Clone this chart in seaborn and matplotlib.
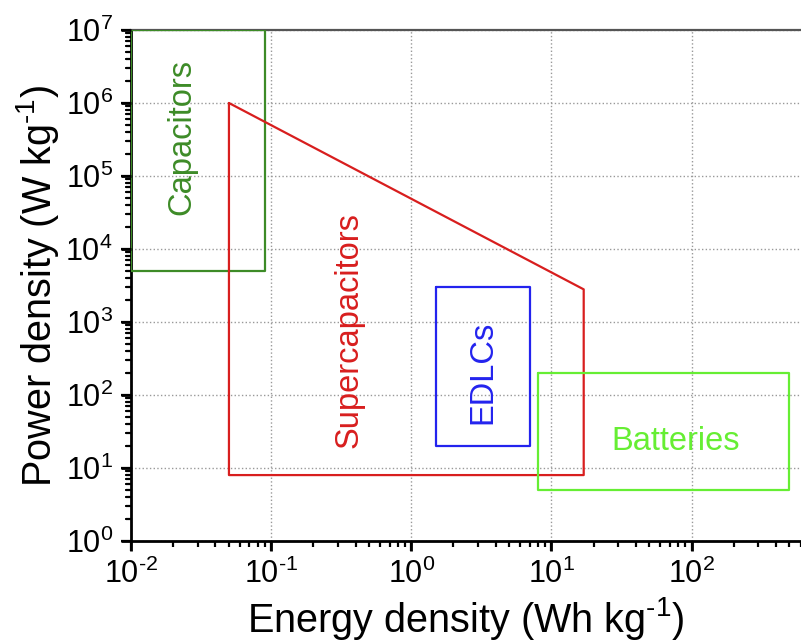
import matplotlib
matplotlib.use("Agg")
import matplotlib.pyplot as plt
import matplotlib.transforms as mtransforms
from matplotlib.patches import PathPatch
from matplotlib.path import Path
import seaborn as sns
import pandas as pd
import numpy as np
from matplotlib.ticker import LogLocator, NullFormatter, FuncFormatter

sns.set_theme(style="ticks")
plt.rcParams.update({
    'font.family': ['Liberation Sans', 'DejaVu Sans'],
    'mathtext.fontset': 'custom',
    'mathtext.rm': 'Liberation Sans',
    'mathtext.it': 'Liberation Sans:italic',
    'mathtext.bf': 'Liberation Sans:bold',
    'axes.unicode_minus': False,
    'text.color': 'black',
    'axes.labelcolor': 'black',
    'xtick.color': 'black',
    'ytick.color': 'black',
    'xtick.major.size': 7, 'ytick.major.size': 7,
    'xtick.major.width': 1.6, 'ytick.major.width': 1.6,
    'xtick.minor.size': 4, 'ytick.minor.size': 4,
    'xtick.minor.width': 1.3, 'ytick.minor.width': 1.3,
    'xtick.major.pad': 6, 'ytick.major.pad': 6,
    'xtick.labelsize': 22, 'ytick.labelsize': 22,
})

# Region outlines (energy density Wh/kg, power density W/kg)
capacitors_x = [0.01, 0.09, 0.09, 0.01, 0.01]
capacitors_y = [1e7, 1e7, 5e3, 5e3, 1e7]
supercap_x = [0.05, 17, 17, 0.05, 0.05]
supercap_y = [1e6, 2800, 8, 8, 1e6]
edlc_x = [1.5, 7, 7, 1.5, 1.5]
edlc_y = [3000, 3000, 20, 20, 3000]
batteries_x = [8, 500, 500, 8, 8]
batteries_y = [200, 200, 5, 5, 200]

names = ["Capacitors", "Supercapacitors", "EDLCs", "Batteries"]
colors = ["#3d8b27", "#d81e1e", "#2323ee", "#66ee33"]
xs = [capacitors_x, supercap_x, edlc_x, batteries_x]
ys = [capacitors_y, supercap_y, edlc_y, batteries_y]

fig = plt.figure(figsize=(8.01, 6.41), dpi=100)
ax = fig.add_axes([131/801, 100/641, 670/801, 511/641])

for name, c, x, y in zip(names, colors, xs, ys):
    df = pd.DataFrame({"x": x, "y": y})
    sns.lineplot(data=df, x="x", y="y", sort=False, color=c, lw=1.6,
                 ax=ax, estimator=None, zorder=3)

ax.set_xscale("log")
ax.set_yscale("log")
ax.set_xlim(1e-2, 604)
ax.set_ylim(1, 1e7)


def pow_fmt(v, pos):
    e = int(round(np.log10(v)))
    s = str(e).replace("-", r"\text{-}")
    return r"$\mathregular{10^{%s}}$" % s


for axis in (ax.xaxis, ax.yaxis):
    axis.set_major_locator(LogLocator(base=10, numticks=20))
    axis.set_minor_locator(LogLocator(base=10, subs=range(2, 10), numticks=20))
    axis.set_major_formatter(FuncFormatter(pow_fmt))
    axis.set_minor_formatter(NullFormatter())

ax.grid(True, which="major", ls=":", color="#999999", lw=1.0)

for s in ["left", "bottom"]:
    ax.spines[s].set_color("black")
    ax.spines[s].set_linewidth(2)
ax.spines["top"].set_color("#555555")
ax.spines["top"].set_linewidth(1.6)
ax.spines["right"].set_visible(False)

ax.set_xlabel(r"Energy density (Wh kg$^{\text{-}1}$)", fontsize=28.5, labelpad=3)
ax.set_ylabel(r"Power density (W kg$^{\text{-}1}$)", fontsize=28.5, labelpad=3)

ax.text(0.023, 3.4e5, "Capacitors", color=colors[0], rotation=90,
        ha="center", va="center", fontsize=23.5)
ax.text(0.36, 780, "Supercapacitors", color=colors[1], rotation=90,
        ha="center", va="center", fontsize=23.5)
ax.text(3.26, 207, "EDLCs", color=colors[2], rotation=90,
        ha="center", va="center", fontsize=23.5)
ax.text(77, 23, "Batteries", color=colors[3],
        ha="center", va="center", fontsize=23.5)

ax.tick_params(axis="both", which="both", direction="out",
               bottom=True, left=True, top=False, right=False)

# Outward tick marks drawn as patches at the locator positions
ax_w_px, ax_h_px = 670.0, 511.0
xtr = mtransforms.blended_transform_factory(ax.transData, ax.transAxes)
ytr = mtransforms.blended_transform_factory(ax.transAxes, ax.transData)
x0, x1 = ax.get_xlim()
y0, y1 = ax.get_ylim()
for locs, L, w in [(ax.xaxis.get_majorticklocs(), 10, 2.0),
                   (ax.xaxis.get_minorticklocs(), 5.5, 1.6)]:
    for v in locs:
        if x0 * 0.999 <= v <= x1:
            p = PathPatch(Path([(v, 0.0), (v, -L / ax_h_px)]), transform=xtr,
                          fill=False, edgecolor="black", lw=w, clip_on=False,
                          capstyle="butt", zorder=5)
            ax.add_artist(p)
for locs, L, w in [(ax.yaxis.get_majorticklocs(), 10, 2.0),
                   (ax.yaxis.get_minorticklocs(), 5.5, 1.6)]:
    for v in locs:
        if y0 * 0.999 <= v <= y1 * 1.001:
            p = PathPatch(Path([(0.0, v), (-L / ax_w_px, v)]), transform=ytr,
                          fill=False, edgecolor="black", lw=w, clip_on=False,
                          capstyle="butt", zorder=5)
            ax.add_artist(p)

fig.canvas.draw()
fig.savefig("out.png", dpi=100)
